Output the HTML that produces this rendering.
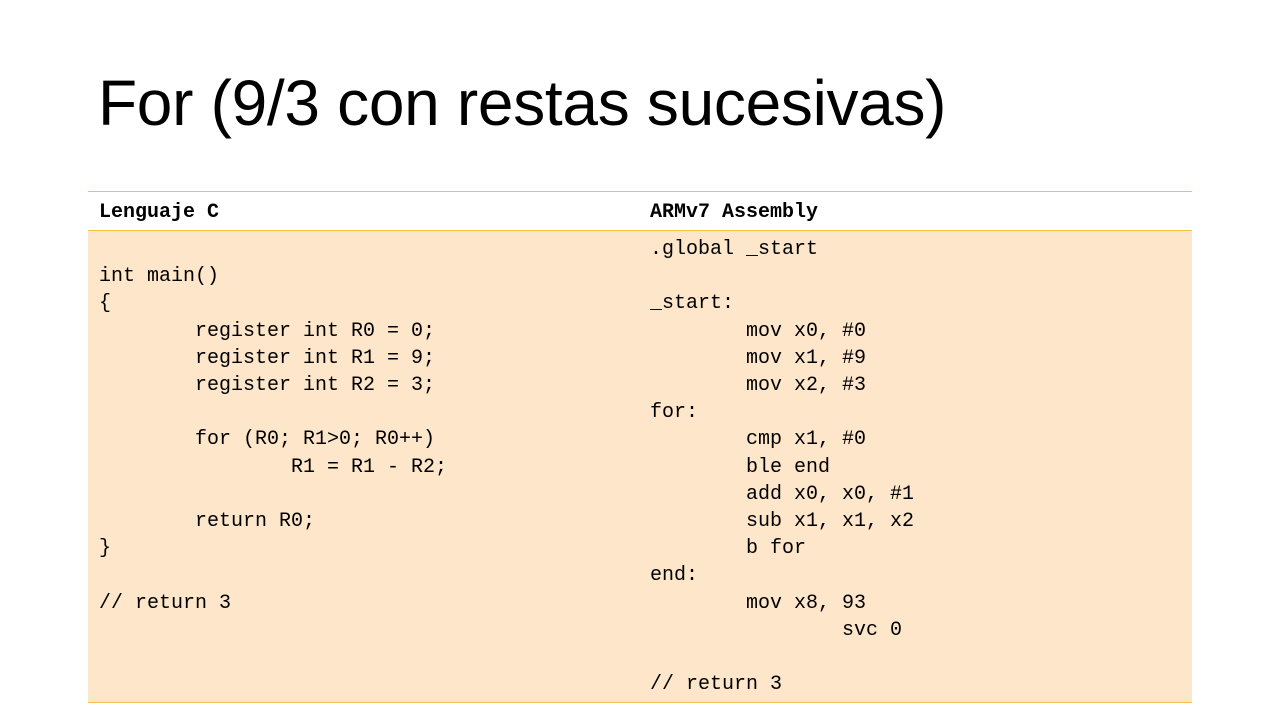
<!DOCTYPE html>
<html><head><meta charset="utf-8"><style>
body{margin:0;width:1280px;height:720px;background:#fff;position:relative;overflow:hidden;font-family:"Liberation Sans",sans-serif}
.t{position:absolute;left:98px;top:66px;font-size:64px;color:#000;white-space:nowrap;letter-spacing:-0.3px}
.hl{position:absolute;left:88px;width:1104px;height:1px;background:#F2C14E}
.body{position:absolute;left:88px;top:231px;width:1104px;height:471px;background:#FDE6C9}
pre{position:absolute;margin:0;font-family:"Liberation Mono",monospace;font-size:20px;line-height:27.2px;color:#000}
.h{position:absolute;top:201px;font-family:"Liberation Mono",monospace;font-weight:bold;font-size:20px}
</style></head><body>
<div class="t">For (9/3 con restas sucesivas)</div>
<div class="hl" style="top:191px"></div>
<div class="body"></div>
<div class="hl" style="top:230px"></div>
<div class="hl" style="top:702px"></div>
<div class="h" style="left:99px">Lenguaje C</div>
<div class="h" style="left:650px">ARMv7 Assembly</div>
<pre style="left:99px;top:236px">&nbsp;
int main()
{
        register int R0 = 0;
        register int R1 = 9;
        register int R2 = 3;

        for (R0; R1>0; R0++)
                R1 = R1 - R2;

        return R0;
}

// return 3</pre>
<pre style="left:650px;top:236px">.global _start

_start:
        mov x0, #0
        mov x1, #9
        mov x2, #3
for:
        cmp x1, #0
        ble end
        add x0, x0, #1
        sub x1, x1, x2
        b for
end:
        mov x8, 93
                svc 0

// return 3</pre>
</body></html>
